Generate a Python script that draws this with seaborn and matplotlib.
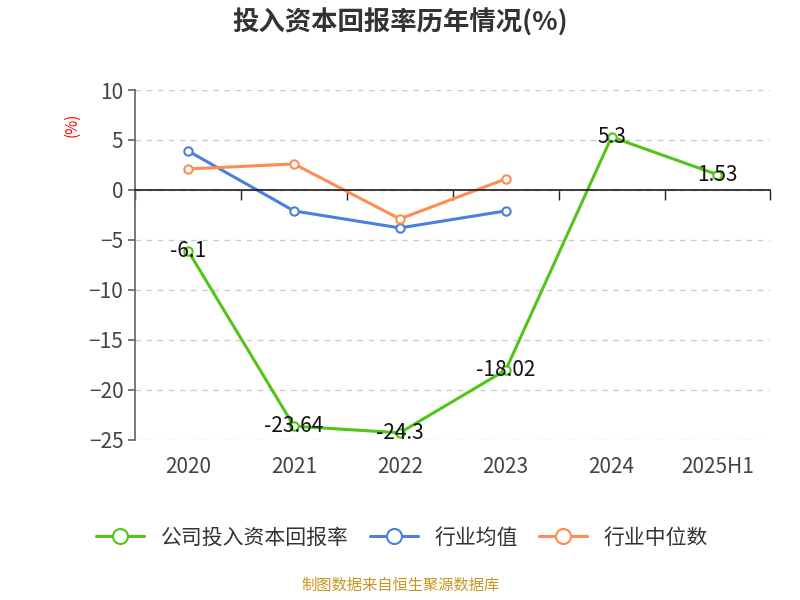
import numpy as np
import pandas as pd
import matplotlib.pyplot as plt
import seaborn as sns

plt.rcParams["font.family"] = "Noto Sans CJK SC"

years = ["2020", "2021", "2022", "2023", "2024", "2025H1"]
company = [-6.1, -23.64, -24.3, -18.02, 5.3, 1.53]
industry_avg = [3.9, -2.1, -3.8, -2.1]
industry_median = [2.1, 2.6, -2.9, 1.1]

sns.set_theme(style="white", rc={"font.family": "Noto Sans CJK SC"})
fig = plt.figure(figsize=(8, 6), dpi=100)
ax = fig.add_axes([0.169, 0.267, 0.794, 0.583])

x = np.arange(len(years))
series = [
    ("公司投入资本回报率", company, "#52c41a"),
    ("行业均值", industry_avg, "#4a7fe0"),
    ("行业中位数", industry_median, "#ff8c50"),
]
for name, vals, col in series:
    sns.lineplot(x=x[:len(vals)], y=vals, ax=ax, color=col, linewidth=2.2,
                 marker="o", markersize=6, markerfacecolor="white",
                 markeredgecolor=col, markeredgewidth=1.5, label=name)

for xi, v in zip(x, company):
    ax.text(xi, v, f"{v:g}", ha="center", va="center", fontsize=15, color="#111")

ax.set_xlim(-0.5, 5.5)
ax.set_ylim(-25, 10)
ax.set_yticks(range(-25, 11, 5))
ax.tick_params(axis="y", labelsize=15, colors="#444", length=5, color="#666", left=True)
ax.yaxis.grid(True, linestyle=(0, (4, 4)), color="#cccccc")
for s in ["top", "right"]:
    ax.spines[s].set_visible(False)
ax.spines["left"].set_color("#666")
ax.spines["bottom"].set_position(("data", 0))
ax.spines["bottom"].set_color("#222")
ax.set_xticks(x)
ax.set_xticks(np.arange(-0.5, 6, 1), minor=True)
ax.tick_params(axis="x", which="major", length=0, labelbottom=False)
ax.tick_params(axis="x", which="minor", bottom=True, length=7, width=1,
               color="#222", direction="out")

sec = ax.secondary_xaxis("bottom")
sec.set_xticks(x)
sec.set_xticklabels(years)
sec.tick_params(length=0, labelsize=15, colors="#444", pad=12)
sec.spines["bottom"].set_visible(False)

ax.text(-0.1, 0.9, "(%)", transform=ax.transAxes, rotation=90, color="red",
        fontsize=11, ha="center", va="center")
ax.set_xlabel("")
ax.set_ylabel("")

fig.suptitle("投入资本回报率历年情况(%)", x=0.5, y=0.985, fontsize=19,
             fontweight="bold", color="#333")
leg = ax.legend(loc="center", bbox_to_anchor=(0.42, -0.28), ncol=3, frameon=False,
                fontsize=15, handlelength=2.3, columnspacing=1.0, labelcolor="#333",
                markerscale=1.8)
fig.text(0.5, 0.017, "制图数据来自恒生聚源数据库", ha="center", fontsize=11,
         color="#c8961e")

fig.savefig("out.png", dpi=100)
